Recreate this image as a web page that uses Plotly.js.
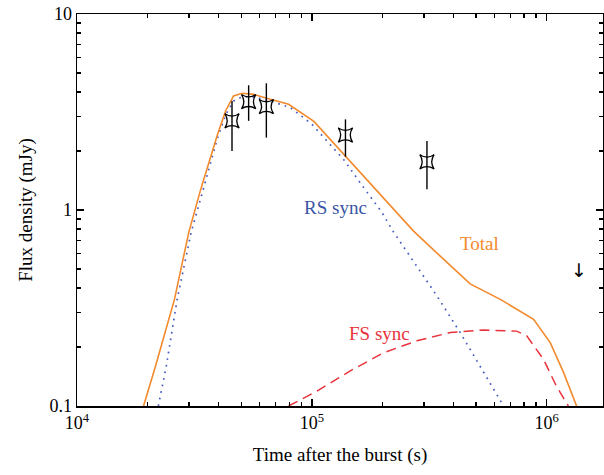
<!DOCTYPE html>
<html>
<head>
<meta charset="utf-8">
<script src="https://cdn.plot.ly/plotly-3.0.1.min.js"></script>
<style>html,body{margin:0;padding:0;background:#fff;}#chart{width:604px;height:475px;}</style>
</head>
<body>
<div id="chart"></div>
<script>
// Observed data (time in s, flux in mJy)
var obsTime = [4.57e4, 5.38e4, 6.4e4, 1.39e5, 3.09e5];
var obsFlux = [2.85, 3.57, 3.37, 2.41, 1.76];
var obsErrUp = [0.75, 0.76, 1.06, 0.49, 0.49];
var obsErrDown = [0.85, 0.72, 1.03, 0.54, 0.485];

// Upper limit
var ulTime = [1.37e6];
var ulFlux = [0.48];

// Model: Total
var totTime = [1.92e4, 2.16e4, 2.6e4, 2.99e4, 3.36e4, 3.95e4, 4.29e4, 4.64e4, 5.05e4, 5.65e4, 6.65e4, 7.96e4, 1.02e5, 1.365e5, 1.83e5, 2.71e5, 3.76e5, 4.72e5, 6.34e5, 8.79e5, 1.036e6, 1.18e6, 1.34e6];
var totFlux = [0.1, 0.16, 0.35, 0.767, 1.27, 2.39, 3.2, 3.82, 3.94, 3.89, 3.67, 3.46, 2.83, 1.92, 1.30, 0.78, 0.54, 0.42, 0.35, 0.277, 0.21, 0.148, 0.1];

// Model: RS sync
var rsTime = [2.22e4, 2.4e4, 2.67e4, 3.06e4, 3.4e4, 3.95e4, 4.29e4, 4.64e4, 5.05e4, 5.65e4, 6.65e4, 8.1e4, 1.0e5, 1.16e5, 1.365e5, 1.64e5, 1.99e5, 2.23e5, 2.8e5, 3.41e5, 4.28e5, 5.38e5, 6.55e5];
var rsFlux = [0.1, 0.16, 0.35, 0.767, 1.2, 2.3, 3.05, 3.6, 3.78, 3.78, 3.6, 3.33, 2.74, 2.25, 1.81, 1.33, 0.97, 0.77, 0.515, 0.364, 0.237, 0.148, 0.1];

// Model: FS sync
var fsTime = [7.96e4, 1.05e5, 1.456e5, 2.02e5, 2.8e5, 3.88e5, 5.37e5, 7.45e5, 8.22e5, 9.69e5, 1.1e6, 1.236e6];
var fsFlux = [0.1, 0.119, 0.151, 0.187, 0.215, 0.237, 0.244, 0.241, 0.228, 0.173, 0.126, 0.1];

// Axis tick values and labels
var decadesX = [1e4, 1e5, 1e6];
var decadeLabelsX = ['10<sup>4</sup>', '10<sup>5</sup>', '10<sup>6</sup>'];
var decadesY = [0.1, 1, 10];
var decadeLabelsY = ['0.1', '1', '10'];
var minorDigits = [2, 3, 4, 5, 6, 7, 8, 9];

function minorVals(decades) {
  var out = [];
  decades.forEach(function (d) { minorDigits.forEach(function (m) { out.push(d * m); }); });
  return out;
}

var cTotal = '#f28a2e', cRS = '#4a5cc0', cFS = '#e8323c';
var fontFam = 'Liberation Serif, Times New Roman, serif';

var traces = [
  {x: rsTime, y: rsFlux, mode: 'lines', line: {color: cRS, width: 1.7, dash: '1.7px,5px'}, hoverinfo: 'skip'},
  {x: fsTime, y: fsFlux, mode: 'lines', line: {color: cFS, width: 1.5, dash: '10px,6px'}, hoverinfo: 'skip'},
  {x: totTime, y: totFlux, mode: 'lines', line: {color: cTotal, width: 1.6}, hoverinfo: 'skip'},
  {x: obsTime, y: obsFlux, mode: 'markers',
   marker: {symbol: 'star-square-open', size: 13, color: '#000', line: {color: '#000', width: 1.3}},
   error_y: {type: 'data', symmetric: false, array: obsErrUp, arrayminus: obsErrDown, color: '#000', thickness: 1.4, width: 0}},
  {x: ulTime, y: ulFlux, mode: 'text', text: ['↓'], textposition: 'middle center',
   textfont: {family: 'DejaVu Sans', size: 19, color: '#000'}}
];

function axisBase(major, labels, minorArr) {
  return {
    type: 'log', showgrid: false, zeroline: false, showline: true, linecolor: '#000', linewidth: 1.5,
    mirror: 'allticks', ticks: 'inside', ticklen: 7, tickwidth: 1.3, tickcolor: '#000',
    tickfont: {family: fontFam, size: 18, color: '#000'},
    tickmode: 'array', tickvals: major, ticktext: labels,
    minor: {ticks: 'inside', ticklen: 4, tickwidth: 1.2, tickcolor: '#000', tickmode: 'array', tickvals: minorArr, showgrid: false}
  };
}

var layout = {
  width: 604, height: 475,
  margin: {l: 77, r: 1, t: 14, b: 69},
  paper_bgcolor: '#fff', plot_bgcolor: '#fff',
  showlegend: false,
  xaxis: Object.assign(axisBase(decadesX, decadeLabelsX, minorVals(decadesX)), {
    range: [4, 6.2395],
    title: {text: 'Time after the burst (s)', font: {family: fontFam, size: 19, color: '#000'}, standoff: 15}
  }),
  yaxis: Object.assign(axisBase(decadesY, decadeLabelsY, minorVals([0.1, 1])), {
    range: [-1, 1],
    title: {text: 'Flux density (mJy)', font: {family: fontFam, size: 19, color: '#000'}, standoff: 12}
  }),
  annotations: [
    {x: 5.0995, y: 0.014, text: 'RS sync', showarrow: false, xanchor: 'center', yanchor: 'middle', font: {family: fontFam, size: 19, color: '#3b56a6'}},
    {x: 5.712, y: -0.170, text: 'Total', showarrow: false, xanchor: 'center', yanchor: 'middle', font: {family: fontFam, size: 19, color: cTotal}},
    {x: 5.287, y: -0.629, text: 'FS sync', showarrow: false, xanchor: 'center', yanchor: 'middle', font: {family: fontFam, size: 19, color: cFS}}
  ]
};

Plotly.newPlot('chart', traces, layout, {displayModeBar: false, staticPlot: true});
</script>
</body>
</html>
